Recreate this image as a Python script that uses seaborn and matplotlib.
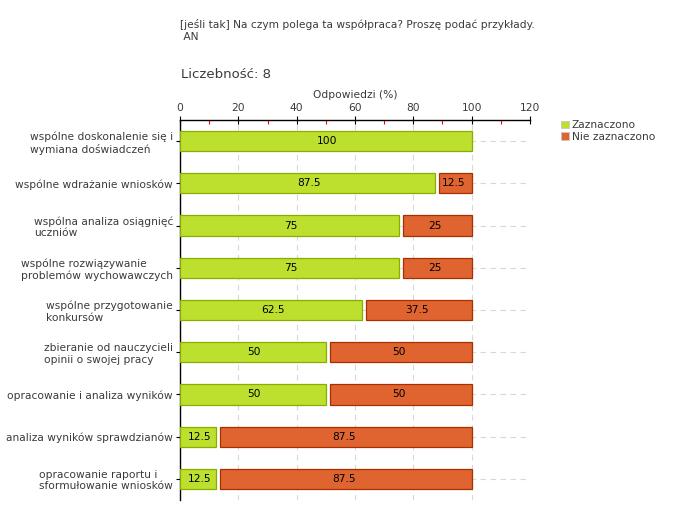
import matplotlib
matplotlib.use('Agg')
import matplotlib.pyplot as plt
import seaborn as sns
import pandas as pd
from matplotlib.patches import Patch
from matplotlib.ticker import MultipleLocator

# data
categories = [
    'wspólne doskonalenie się i\nwymiana doświadczeń',
    'wspólne wdrażanie wniosków',
    'wspólna analiza osiągnięć\nuczniów',
    'wspólne rozwiązywanie\nproblemów wychowawczych',
    'wspólne przygotowanie\nkonkursów',
    'zbieranie od nauczycieli\nopinii o swojej pracy',
    'opracowanie i analiza wyników',
    'analiza wyników sprawdzianów',
    'opracowanie raportu i\nsformułowanie wniosków',
]
zaznaczono = [100, 87.5, 75, 75, 62.5, 50, 50, 12.5, 12.5]
nie_zaznaczono = [0, 12.5, 25, 25, 37.5, 50, 50, 87.5, 87.5]
series_names = ['Zaznaczono', 'Nie zaznaczono']

title = '[jeśli tak] Na czym polega ta współpraca? Proszę podać przykłady.\n AN'
count_text = 'Liczebność: 8'
x_label = 'Odpowiedzi (%)'

green, green_edge = '#bde02f', '#8aae00'
orange, orange_edge = '#e06430', '#a83000'
text_col = '#3a3a3a'
gap = 1.3  # white gap between the two segments, in axis units
fs = 7.7

sns.set_style('white')
plt.rcParams['font.family'] = ['DejaVu Sans']
plt.rcParams['font.size'] = fs

df = pd.DataFrame({'cat': categories, 'z': zaznaczono, 'n': nie_zaznaczono})

fig = plt.figure(figsize=(6.8, 5.2), dpi=100)
ax = fig.add_axes([180 / 680, 1 - 500 / 520, 350 / 680, 380 / 520])

sns.barplot(data=df, x='z', y='cat', orient='h', color=green, edgecolor=green_edge,
            linewidth=0.9, width=0.48, saturation=1, ax=ax, zorder=3)

for i, (z, n) in enumerate(zip(zaznaczono, nie_zaznaczono)):
    if n > 0:
        ax.barh(i, n - gap, left=z + gap, height=0.48, color=orange,
                edgecolor=orange_edge, linewidth=0.9, zorder=3)
        ax.text(z + n / 2, i, f'{n:g}', ha='center', va='center', fontsize=fs,
                color='black', zorder=4)
    if z > 0:
        ax.text(z / 2 + 0.5, i, f'{z:g}', ha='center', va='center', fontsize=fs,
                color='black', zorder=4)

ax.set_xlim(0, 120)
ax.set_ylim(len(categories) - 0.5, -0.5)
ax.xaxis.set_major_locator(MultipleLocator(20))
ax.xaxis.set_minor_locator(MultipleLocator(10))
ax.xaxis.tick_top()
ax.xaxis.set_label_position('top')
ax.set_xlabel(x_label, color=text_col, fontsize=fs, labelpad=4)
ax.set_ylabel('')
ax.tick_params(axis='x', which='major', direction='inout', length=6, width=0.8,
               colors='black', labelcolor=text_col, labelsize=fs, pad=2)
ax.tick_params(axis='x', which='minor', direction='in', length=3, width=0.8,
               colors='red')
ax.tick_params(axis='y', which='major', direction='out', length=3, width=0.8,
               colors='black', labelcolor=text_col, labelsize=fs, pad=2, left=True)
for lbl in ax.get_yticklabels():
    lbl.set_multialignment('left')

ax.grid(True, axis='both', linestyle=(0, (5, 4)), color='#d8d8d8', linewidth=0.8, zorder=0)
ax.set_axisbelow(True)
for side in ['right', 'bottom']:
    ax.spines[side].set_visible(False)
for side in ['top', 'left']:
    ax.spines[side].set_color('black')
    ax.spines[side].set_linewidth(1.0)

fig.text(180 / 680, 1 - 19 / 520, title, ha='left', va='top', fontsize=fs,
         color=text_col)
fig.text(181 / 680, 1 - 75 / 520, count_text, ha='left', va='center', fontsize=9.5,
         color=text_col)

handles = [Patch(facecolor=green, edgecolor='#c8c8c8', linewidth=0.6),
           Patch(facecolor=orange, edgecolor='#c8c8c8', linewidth=0.6)]
fig.legend(handles, series_names, loc='upper left', bbox_to_anchor=(557 / 680, 1 - 116 / 520),
           frameon=False, fontsize=fs, handlelength=0.7, handleheight=0.7,
           handletextpad=0.3, labelspacing=0.15, labelcolor=text_col, borderaxespad=0)

fig.savefig('out.png', dpi=100)
